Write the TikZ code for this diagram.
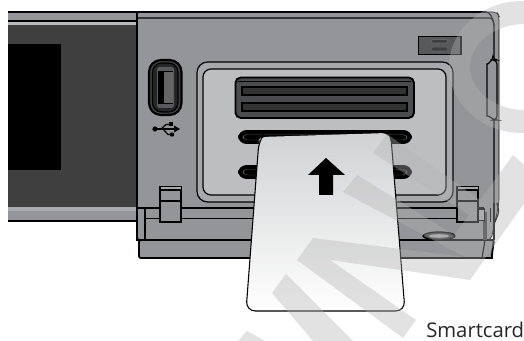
\documentclass[tikz,border=0pt]{standalone}
\usepackage{fontspec}
\setmainfont{Open Sans}
\definecolor{bodygray}{HTML}{939598}
\definecolor{panelgray}{HTML}{BCBEC0}
\definecolor{ringgray}{HTML}{A7A9AC}
\definecolor{darkpanel}{HTML}{3F3F3F}
\definecolor{slotgray}{HTML}{58595B}
\definecolor{marksgray}{HTML}{B4B4B4}
\tikzset{
  ln/.style={draw=black,line width=0.9pt},
  thn/.style={draw=black,line width=0.5pt},
  thk/.style={draw=black,line width=1.4pt},
  wmark/.style={fill=marksgray,fill opacity=0.38,draw=none},
  pill/.style={rounded corners=5.5}
}
\begin{document}
\begin{tikzpicture}[x=0.75pt,y=-0.75pt]
\useasboundingbox (0,0) rectangle (524,341);
\clip (0,0) rectangle (524,341);
\fill[white] (0,0) rectangle (524,341);
% left sliding part
\fill[bodygray] (8,12) rectangle (137,21);
\fill[ringgray!80!white] (8,21) rectangle (137,25);
\fill[darkpanel] (8,25) rectangle (137,207);
\fill[black] (8,44) rectangle (61,170);
\fill[ringgray] (8,207) rectangle (137,211);
\fill[bodygray] (8,211) rectangle (137,221);
\draw[ln] (8,12) -- (137,12);
\draw[ln] (8,21) -- (137,21);
\draw[thk] (8,221) -- (137,221);
% body
\draw[thn,fill=bodygray,rounded corners=3] (137,12) -- (497,12) -- (499,16) -- (499,203) -- (495,222) -- (491,240) -- (137,240) -- cycle;
\fill[bodygray] (137.5,13) rectangle (490,208);
\draw[ln] (137,12) -- (137,208);
\draw[ln] (137,12) -- (486,12);
\draw[ln] (137,18) -- (490,18) .. controls (492,18) and (494,21) .. (494,26) -- (494,203);
\draw[ln] (486,12) .. controls (490,12) and (493,18) .. (494,26);
% lower lip
\draw[thk,fill=bodygray,rounded corners=1.5] (139,240) -- (139,258) -- (490,258) .. controls (492,258) and (492,256) .. (492,254) -- (494,240) -- cycle;
\draw[ln] (137,208) -- (137,240) -- (139,240);
\draw[ln] (145,208) -- (145,240);
\draw[ln] (137,208) -- (484,208);
\draw[ln] (145,218.5) -- (484,218.5);
\draw[thk] (139,240) -- (494,240);
\draw[ln] (485,240) -- (482,258);
\fill[darkpanel] (483,212) -- (487,212) -- (487,240) -- (483,240) -- cycle;
\draw[thn] (484,208) -- (484,222) (490,208) -- (490,222);
\draw[ln] (494,203) -- (494,240);
% oval
\draw[ln,fill=darkpanel] (439,236) ellipse [x radius=16,y radius=4];
\fill[ringgray] (439,236) ellipse [x radius=10,y radius=1.8];
% right latch
\draw[ln,fill=bodygray,rounded corners=3] (493,60) -- (497,60) -- (497,120) -- (493,120) .. controls (490,117) and (487,115) .. (487,112) -- (487,68) .. controls (487,65) and (490,62) .. (493,60) -- cycle;
\draw[ln,rounded corners=2] (497,203) -- (499,212) -- (495,222);
% panel
\draw[ln,fill=ringgray,rounded corners=8] (197,62) rectangle (453,202);
\draw[ln,fill=panelgray,rounded corners=6] (203,69) rectangle (446,195);
% slot block
\draw[thk,fill=slotgray!85!black,rounded corners=4] (235.5,77.5) rectangle (414,118);
\draw[line width=1.1pt,draw=black,fill=darkpanel!80!black] (242,87) rectangle (407,95);
\draw[line width=1.1pt,draw=black,fill=darkpanel!80!black] (242,103) rectangle (407,111);
\draw[thn] (238,81.5) -- (411,81.5);
% card slots
\draw[thk,fill=black,pill] (239,131) rectangle (411,143);
\draw[draw=slotgray,line width=0.35pt,rounded corners=3] (243,134.5) rectangle (407,140);
\draw[thk,fill=black,pill] (239,166) rectangle (411,178);
\draw[draw=slotgray,line width=0.35pt,rounded corners=3] (243,169.5) rectangle (407,175);
% USB port
\draw[line width=1.6pt,draw=black,fill=darkpanel,rounded corners=9] (149,60) rectangle (181.5,115);
\draw[ln,fill=black!85,rounded corners=7] (152.5,63) rectangle (178,112);
\fill[slotgray,rounded corners=2] (157,67) rectangle (174,108);
\fill[black] (158,71) rectangle (164,103);
\fill[darkpanel!80!white] (164,71) rectangle (173,103);
\draw[thn] (158,71) -- (173,71) (158,103) -- (173,103);
% USB symbol
\fill[black] (155,129) circle (2.6);
\draw[line width=1.1pt] (155,129) -- (175,129);
\fill[black] (180,129) -- (174,125.5) -- (174,132.5) -- cycle;
\draw[line width=0.9pt] (161,129) -- (166,124.5) -- (169,124.5);
\fill[black] (168.5,122.5) rectangle (172.5,126.5);
\draw[line width=0.9pt] (163,129) -- (168,134.5) -- (170,134.5);
\fill[black] (172,134.5) circle (2.2);
% switch
\draw[thk,fill=slotgray] (418.5,36.5) rectangle (461,54.5);
\draw[thn,fill=darkpanel,rounded corners=1.5,draw=ringgray!60!black] (431,39.5) rectangle (448,43);
\draw[thn,fill=darkpanel,rounded corners=1.5,draw=ringgray!60!black] (431,47) rectangle (448,51);
% clips
\draw[ln,fill=bodygray] (160,187) rectangle (181,222);
\fill[ringgray] (160.5,187.5) rectangle (180.5,190);
\draw[ln] (160,190) -- (181,190);
\draw[ln] (160,201) -- (181,201);
\draw[ln,fill=bodygray] (457,187) rectangle (478,222);
\fill[ringgray] (457.5,187.5) rectangle (477.5,190);
\draw[ln] (457,190) -- (478,190);
\draw[ln] (457,201) -- (478,201);
\draw[thn,fill=ringgray] (478,209) rectangle (484,220);
% card
\shade[top color=panelgray!70!white,bottom color=white,rounded corners=4] (261,137) -- (387,133) -- (391,140) -- (405,311) -- (246,311) -- (259,140) -- cycle;
\draw[thn,line width=0.8pt,rounded corners=7] (261,137.5) -- (259,140) -- (246,311) -- (405,311) -- (391,138);
% arrow
\fill[black] (326,158) -- (345,175) -- (333,175) -- (333,195) -- (319,195) -- (319,175) -- (308,175) -- cycle;
% watermark
\path[wmark] (387,134) -- (480,200) -- (513,155) -- (530,170) -- (530,195) -- (470,280) -- (330,260) -- (416,320) -- (403,338) -- (297,260) -- (313,238) -- (465,257) -- (343,192) -- (357,175) -- (454,235) -- (469,215) -- (373,153) -- cycle;
\path[wmark] (272,293) -- (286,274) -- (353,341) -- (313,341) -- cycle;
\path[wmark] (238,341) -- (247,331) -- (265,341) -- cycle;
\path[wmark,even odd rule] (522,67) ellipse [x radius=73,y radius=66] (525,67) ellipse [x radius=55,y radius=43];
% label
\node[anchor=base west,inner sep=0pt,font=\fontsize{15.2pt}{18pt}\selectfont,text=black!85] (smartlabel) at (426,338) {Smartcard};
\end{tikzpicture}
\end{document}
